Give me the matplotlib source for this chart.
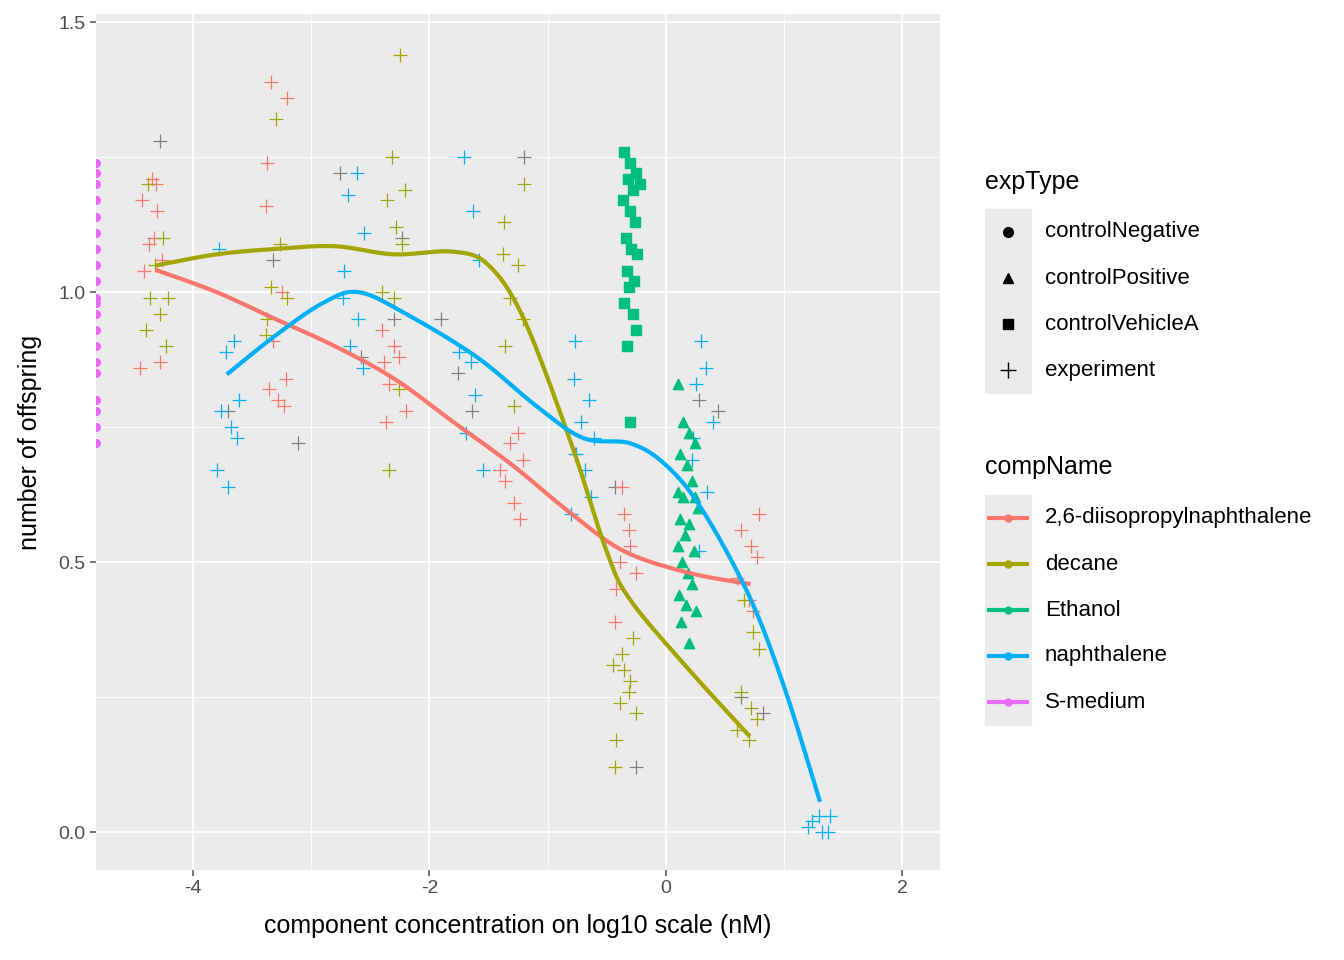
import numpy as np
import matplotlib.pyplot as plt
from matplotlib.lines import Line2D
from matplotlib.patches import Rectangle

cols = {'2,6-diisopropylnaphthalene': '#F8766D', 'decane': '#A3A500', 'Ethanol': '#00BF7D',
        'naphthalene': '#00B0F6', 'S-medium': '#E76BF3'}

# experiment points (x, y)
dipn_x = [-4.35]*10 + [-3.3]*10 + [-2.3]*7 + [-1.3]*7 + [-0.35]*8 + [0.7]*7
dipn_y = [1.17, 1.15, 1.09, 1.06, 1.04, 1.10, 0.87, 0.86, 1.21, 1.20,
          1.39, 1.36, 1.24, 1.16, 1.0, 0.91, 0.84, 0.82, 0.80, 0.79,
          0.93, 0.90, 0.88, 0.83, 0.78, 0.76, 0.87,
          0.74, 0.72, 0.69, 0.65, 0.61, 0.58, 0.67,
          0.59, 0.56, 0.50, 0.48, 0.45, 0.39, 0.53, 0.64,
          0.59, 0.56, 0.53, 0.51, 0.47, 0.43, 0.41]
dec_x = [-4.3]*8 + [-3.3]*6 + [-2.3]*10 + [-1.3]*8 + [-0.35]*10 + [0.7]*8
dec_y = [1.20, 1.10, 1.05, 0.99, 0.99, 0.96, 0.90, 0.93,
         1.32, 1.09, 1.01, 0.99, 0.95, 0.92,
         1.44, 1.25, 1.19, 1.17, 1.12, 1.09, 1.0, 0.99, 0.82, 0.67,
         1.20, 1.13, 1.07, 1.05, 0.99, 0.95, 0.90, 0.79,
         0.36, 0.31, 0.30, 0.26, 0.24, 0.22, 0.17, 0.12, 0.28, 0.33,
         0.34, 0.26, 0.23, 0.21, 0.19, 0.17, 0.37, 0.43]
nap_x = [-3.7]*9 + [-2.65]*8 + [-1.65]*8 + [-0.7]*9 + [0.3]*8 + [1.3]*6
nap_y = [1.08, 0.91, 0.89, 0.80, 0.78, 0.75, 0.73, 0.67, 0.64,
         1.22, 1.18, 1.11, 1.04, 0.99, 0.95, 0.90, 0.86,
         1.25, 1.15, 1.06, 0.89, 0.87, 0.81, 0.74, 0.67,
         0.91, 0.84, 0.80, 0.76, 0.73, 0.70, 0.67, 0.62, 0.59,
         0.91, 0.86, 0.83, 0.76, 0.73, 0.69, 0.63, 0.52,
         0.03, 0.02, 0.0, 0.0, 0.01, 0.03]
gray_x = [-4.2, -3.75, -3.3, -3.2, -2.7, -2.6, -2.3, -2.2, -1.9, -1.8, -1.6, -1.3,
          -0.7, -0.35, -0.3, 0.3, 0.35, 0.7, 0.8]
gray_y = [1.28, 0.78, 1.06, 0.72, 1.22, 0.88, 1.10, 0.95, 0.95, 0.85, 0.78, 1.25,
          0.70, 0.64, 0.12, 0.80, 0.78, 0.25, 0.22]
# fixed horizontal jitter offsets, cycled over points
jitter = [-0.08, 0.05, -0.02, 0.09, -0.06, 0.02, 0.07, -0.1, 0.0, 0.04, -0.04, 0.1, -0.07]

# controls
smed_y = [0.72, 0.75, 0.78, 0.85, 0.87, 0.90, 0.93, 0.96, 0.99, 1.02, 1.05, 1.08,
          1.11, 1.14, 1.17, 1.20, 1.22, 1.24, 0.80, 0.98]
veh_x = [-0.35, -0.3, -0.25, -0.32, -0.28, -0.22, -0.36, -0.3, -0.26, -0.34, -0.29, -0.24,
         -0.33, -0.27, -0.31, -0.35, -0.28, -0.25, -0.33, -0.3]
veh_y = [1.26, 1.24, 1.22, 1.21, 1.19, 1.20, 1.17, 1.15, 1.13, 1.10, 1.08, 1.07,
         1.04, 1.02, 1.01, 0.98, 0.96, 0.93, 0.90, 0.76]
pos_x = [0.1, 0.15, 0.2, 0.25, 0.12, 0.18, 0.22, 0.1, 0.15, 0.27, 0.12, 0.2, 0.16, 0.1,
         0.24, 0.14, 0.19, 0.22, 0.11, 0.17, 0.26, 0.13, 0.2, 0.25]
pos_y = [0.83, 0.76, 0.74, 0.72, 0.70, 0.68, 0.65, 0.63, 0.62, 0.60, 0.58, 0.57, 0.55,
         0.53, 0.52, 0.50, 0.48, 0.46, 0.44, 0.42, 0.41, 0.39, 0.35, 0.62]

# smoothed curves
sm_dipn_x = [-4.3, -3.8, -3.3, -2.8, -2.3, -1.8, -1.3, -0.8, -0.35, 0.2, 0.7]
sm_dipn_y = [1.04, 1.00, 0.95, 0.90, 0.84, 0.76, 0.68, 0.59, 0.52, 0.48, 0.46]
sm_dec_x = [-4.3, -3.8, -3.3, -2.8, -2.3, -1.8, -1.5, -1.2, -0.8, -0.5, -0.3, 0.2, 0.7]
sm_dec_y = [1.05, 1.07, 1.08, 1.085, 1.07, 1.075, 1.05, 0.95, 0.72, 0.52, 0.43, 0.30, 0.18]
sm_nap_x = [-3.7, -3.3, -2.9, -2.6, -2.2, -1.6, -1.1, -0.7, -0.3, 0.0, 0.3, 0.7, 1.0, 1.3]
sm_nap_y = [0.85, 0.92, 0.98, 1.0, 0.96, 0.88, 0.79, 0.73, 0.72, 0.68, 0.60, 0.44, 0.27, 0.06]


def catmull(xs, ys, n=12):
    # smooth curve through the given points
    P = np.column_stack([xs, ys])
    P = np.vstack([P[0], P, P[-1]])
    out = []
    for i in range(1, len(P) - 2):
        p0, p1, p2, p3 = P[i-1], P[i], P[i+1], P[i+2]
        for t in np.linspace(0, 1, n, endpoint=False):
            out.append(0.5 * (2*p1 + (-p0 + p2)*t + (2*p0 - 5*p1 + 4*p2 - p3)*t**2
                              + (-p0 + 3*p1 - 3*p2 + p3)*t**3))
    out.append(P[-2])
    out = np.array(out)
    return out[:, 0], out[:, 1]


def jit(xs):
    return [x + jitter[i % len(jitter)] for i, x in enumerate(xs)]


plt.rcParams['font.family'] = 'Liberation Sans'
plt.rcParams['axes.unicode_minus'] = False
fig = plt.figure(figsize=(13.44, 9.6), dpi=100)
ax = fig.add_axes([96/1344, 1-870/960, (940-96)/1344, (870-14)/960])
ax.set_facecolor('#EBEBEB')
ax.set_xlim(-4.82, 2.32)
ax.set_ylim(-0.07, 1.515)
for v in [-5, -3, -1, 1]:
    ax.axvline(v, color='white', lw=0.6, zorder=0)
for v in [0.25, 0.75, 1.25]:
    ax.axhline(v, color='white', lw=0.6, zorder=0)
for v in [-4, -2, 0, 2]:
    ax.axvline(v, color='white', lw=1.3, zorder=0)
for v in [0, 0.5, 1.0, 1.5]:
    ax.axhline(v, color='white', lw=1.3, zorder=0)
for s in ax.spines.values():
    s.set_visible(False)

ax.scatter(jit(gray_x), gray_y, marker='+', s=90, color='grey', lw=0.9)
ax.scatter(jit(dipn_x), dipn_y, marker='+', s=90, color=cols['2,6-diisopropylnaphthalene'], lw=0.9)
ax.scatter(jit(dec_x), dec_y, marker='+', s=90, color=cols['decane'], lw=0.9)
ax.scatter(jit(nap_x), nap_y, marker='+', s=90, color=cols['naphthalene'], lw=0.9)
ax.scatter([-4.82]*len(smed_y), smed_y, marker='o', s=30, color=cols['S-medium'])
ax.scatter(veh_x, veh_y, marker='s', s=45, color=cols['Ethanol'])
ax.scatter(pos_x, pos_y, marker='^', s=55, color=cols['Ethanol'])
for xs, ys, k in [(sm_dipn_x, sm_dipn_y, '2,6-diisopropylnaphthalene'),
                  (sm_dec_x, sm_dec_y, 'decane'), (sm_nap_x, sm_nap_y, 'naphthalene')]:
    cx, cy = catmull(xs, ys)
    ax.plot(cx, cy, color=cols[k], lw=3)

ax.set_xticks([-4, -2, 0, 2])
ax.set_yticks([0, 0.5, 1.0, 1.5])
ax.set_yticklabels(['0.0', '0.5', '1.0', '1.5'])
ax.tick_params(colors='#4D4D4D', labelsize=14, length=4, width=1.1)
for t in ax.get_xticklabels() + ax.get_yticklabels():
    t.set_color('#4D4D4D')
ax.set_xlabel('component concentration on log10 scale (nM)', fontsize=18, labelpad=12)
ax.set_ylabel('number of offspring', fontsize=18, labelpad=12)

W, H = 1344, 960
def fx(p): return p / W
def fy(p): return 1 - p / H

fig.text(fx(985), fy(182), 'expType', fontsize=18, va='center')
exp_labels = ['controlNegative', 'controlPositive', 'controlVehicleA', 'experiment']
exp_marks = ['o', '^', 's', '+']
for i, (lab, m) in enumerate(zip(exp_labels, exp_marks)):
    yc = 232 + 46 * i
    fig.add_artist(Rectangle((fx(985), fy(yc + 23)), 46/W, 46/H, color='#EBEBEB', transform=fig.transFigure))
    fig.add_artist(Line2D([fx(1008)], [fy(yc)], marker=m, color='black', ms=12 if m == '+' else 7,
                          mew=1, ls='none', transform=fig.transFigure))
    fig.text(fx(1045), fy(yc), lab, fontsize=16, va='center')

fig.text(fx(985), fy(467), 'compName', fontsize=18, va='center')
for i, lab in enumerate(cols):
    yc = 518 + 46 * i
    fig.add_artist(Rectangle((fx(985), fy(yc + 23)), 46/W, 46/H, color='#EBEBEB', transform=fig.transFigure))
    fig.add_artist(Line2D([fx(989), fx(1027)], [fy(yc), fy(yc)], color=cols[lab], lw=3,
                          transform=fig.transFigure))
    fig.add_artist(Line2D([fx(1008)], [fy(yc)], marker='o', color=cols[lab], ms=5,
                          ls='none', transform=fig.transFigure))
    fig.text(fx(1045), fy(yc), lab, fontsize=16, va='center')

fig.savefig('out.png', dpi=100)
